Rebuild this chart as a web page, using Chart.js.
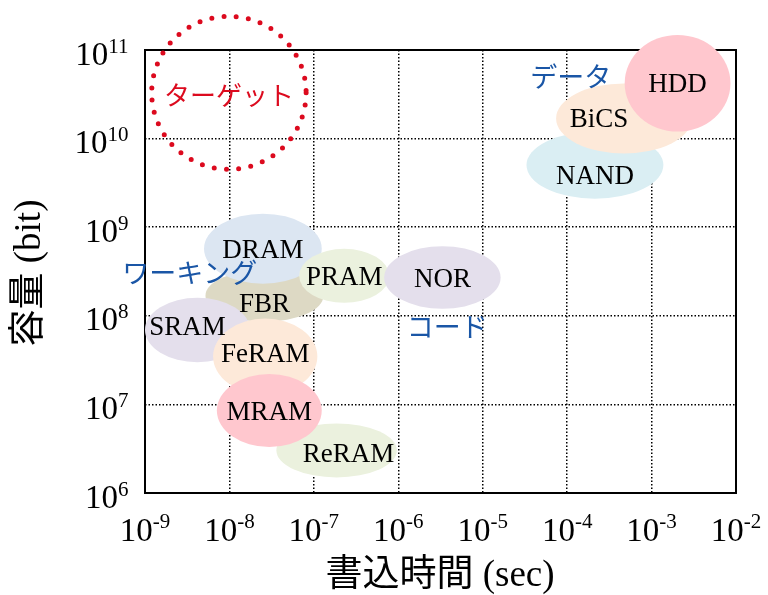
<!DOCTYPE html>
<html lang="ja">
<head>
<meta charset="utf-8">
<script src="https://cdn.jsdelivr.net/npm/chart.js@4/dist/chart.umd.min.js"></script>
<style>
  html, body { margin: 0; padding: 0; background: #fff; }
  #wrap { width: 768px; height: 595px; }
</style>
</head>
<body>
<div id="wrap"><canvas id="c" width="768" height="595"></canvas></div>
<script>
// Memory technologies: write-time range (sec) and capacity range (bit).
// Listed bottom-to-top in drawing order.
const techNames = ['FBR', 'DRAM', 'PRAM', 'NOR', 'SRAM', 'FeRAM', 'ReRAM', 'MRAM', 'NAND', 'BiCS', 'HDD'];
const timeMin   = [5.2e-9, 5.0e-9, 6.7e-8, 6.8e-7, 1.0e-9, 6.4e-9, 3.6e-8, 7.1e-9, 3.3e-5, 7.4e-5, 4.8e-4];
const timeMax   = [1.3e-7, 1.24e-7, 7.8e-7, 1.63e-5, 1.75e-8, 1.1e-7, 9.6e-7, 1.24e-7, 1.38e-3, 3.0e-3, 8.6e-3];
const capMin    = [8.6e7, 2.3e8, 1.4e8, 1.2e8, 3.0e7, 1.3e7, 1.5e6, 3.3e6, 2.1e9, 6.8e9, 1.2e10];
const capMax    = [3.3e8, 1.42e9, 5.7e8, 6.1e8, 1.6e8, 9.3e7, 6.1e6, 2.2e7, 1.2e10, 4.2e10, 1.48e11];

// Target region
const targetLabel = 'ターゲット';
const targetTime = [1.2e-9, 8.1e-8];
const targetCap  = [4.5e9, 2.4e11];

// Usage-group captions, placed in data coordinates
const groupNames = ['データ', 'ワーキング', 'コード'];
const groupTime  = [1.1e-4, 3.4e-9, 3.8e-6];
const groupCap   = [5.0e10, 3.1e8, 7.6e7];

// Axis decades
const xExponents = [-9, -8, -7, -6, -5, -4, -3, -2];
const yExponents = [6, 7, 8, 9, 10, 11];

// ---- styles ----
const techColors = {
  FBR: '#ddd9c4', DRAM: '#dce6f2', PRAM: '#ebf1de', NOR: '#e4dfec', SRAM: '#e4dfec',
  FeRAM: '#fde9d9', ReRAM: '#ebf1de', MRAM: '#ffc7ce', NAND: '#daeef3', BiCS: '#fde9d9', HDD: '#ffc7ce'
};
const labelShift = { FBR: [0, 7], SRAM: [-10, -4], FeRAM: [0, -3], ReRAM: [12, 3], NAND: [0, 10], BiCS: [-25, 0] };
const serif = '"Liberation Serif", "Times New Roman", serif';
const jpFont = '"Noto Sans CJK JP", "Noto Sans", sans-serif';
const mixFont = '"Liberation Serif", "Noto Sans CJK JP", serif';
const red = '#dc0a1e';
const blue = '#1a56a6';

const powersOfTen = exps => exps.map(e => Math.pow(10, e));

function drawPower(ctx, exp, xPos, baseY, align, raise) {
  const base = '10', sup = String(exp);
  ctx.font = '33px ' + serif;
  const wb = ctx.measureText(base).width;
  ctx.font = '21px ' + serif;
  const ws = ctx.measureText(sup).width;
  const left = align === 'center' ? xPos - (wb + ws) / 2 : xPos - (wb + ws);
  ctx.textAlign = 'left';
  ctx.textBaseline = 'alphabetic';
  ctx.font = '33px ' + serif;
  ctx.fillText(base, left, baseY);
  ctx.font = '21px ' + serif;
  ctx.fillText(sup, left + wb, baseY - raise);
}

const framePlugin = {
  id: 'frame',
  beforeDatasetsDraw(chart) {
    const { ctx, chartArea: a } = chart;
    ctx.save();
    ctx.strokeStyle = '#000';
    ctx.lineWidth = 2;
    ctx.strokeRect(a.left, a.top, a.right - a.left, a.bottom - a.top);
    ctx.restore();
  }
};

const ellipsePlugin = {
  id: 'ellipses',
  afterDatasetsDraw(chart) {
    const { ctx, scales: { x, y } } = chart;
    ctx.save();
    // filled technology ellipses
    techNames.forEach((name, i) => {
      const x0 = x.getPixelForValue(timeMin[i]), x1 = x.getPixelForValue(timeMax[i]);
      const y0 = y.getPixelForValue(capMax[i]), y1 = y.getPixelForValue(capMin[i]);
      ctx.beginPath();
      ctx.ellipse((x0 + x1) / 2, (y0 + y1) / 2, (x1 - x0) / 2, (y1 - y0) / 2, 0, 0, Math.PI * 2);
      ctx.fillStyle = techColors[name];
      ctx.fill();
    });
    // technology names
    ctx.fillStyle = '#000';
    ctx.font = '27px ' + serif;
    ctx.textAlign = 'center';
    ctx.textBaseline = 'alphabetic';
    techNames.forEach((name, i) => {
      const cx = (x.getPixelForValue(timeMin[i]) + x.getPixelForValue(timeMax[i])) / 2;
      const cy = (y.getPixelForValue(capMin[i]) + y.getPixelForValue(capMax[i])) / 2;
      const s = labelShift[name] || [0, 0];
      ctx.fillText(name, cx + s[0], cy + s[1] + 9);
    });
    // dotted target circle
    const tx0 = x.getPixelForValue(targetTime[0]), tx1 = x.getPixelForValue(targetTime[1]);
    const ty0 = y.getPixelForValue(targetCap[1]), ty1 = y.getPixelForValue(targetCap[0]);
    const tcx = (tx0 + tx1) / 2, tcy = (ty0 + ty1) / 2;
    ctx.beginPath();
    ctx.ellipse(tcx, tcy, (tx1 - tx0) / 2, (ty1 - ty0) / 2, 0, 0, Math.PI * 2);
    ctx.strokeStyle = red;
    ctx.lineWidth = 5;
    ctx.lineCap = 'round';
    ctx.setLineDash([0, 12.3]);
    ctx.stroke();
    ctx.setLineDash([]);
    ctx.fillStyle = red;
    ctx.font = '26px ' + jpFont;
    ctx.textBaseline = 'middle';
    ctx.fillText(targetLabel, tcx, tcy + 2);
    // group captions
    ctx.fillStyle = blue;
    ctx.font = '27px ' + jpFont;
    groupNames.forEach((g, i) => {
      ctx.fillText(g, x.getPixelForValue(groupTime[i]), y.getPixelForValue(groupCap[i]));
    });
    ctx.restore();
  },
  afterDraw(chart) {
    const { ctx, scales: { x, y } } = chart;
    ctx.save();
    ctx.fillStyle = '#000';
    xExponents.forEach(e => drawPower(ctx, e, x.getPixelForValue(Math.pow(10, e)), 540.5, 'center', 12.5));
    yExponents.forEach(e => drawPower(ctx, e, 128.5, y.getPixelForValue(Math.pow(10, e)) + 14.5, 'right', 12));
    // axis titles
    ctx.font = '37px ' + mixFont;
    ctx.textAlign = 'center';
    ctx.textBaseline = 'middle';
    ctx.fillText('書込時間 (sec)', 440, 576);
    ctx.translate(30, 273);
    ctx.rotate(-Math.PI / 2);
    ctx.fillText('容量 (bit)', 0, 0);
    ctx.restore();
  }
};

const gridOpts = { color: '#000', lineWidth: 1.5, drawTicks: false };
const borderOpts = { display: false, dash: [1.5, 2] };

new Chart(document.getElementById('c'), {
  type: 'scatter',
  data: {
    datasets: [{
      label: 'memory',
      data: techNames.map((n, i) => ({ x: Math.sqrt(timeMin[i] * timeMax[i]), y: Math.sqrt(capMin[i] * capMax[i]) })),
      pointRadius: 0,
      pointHoverRadius: 0
    }]
  },
  options: {
    responsive: false,
    animation: false,
    devicePixelRatio: 1,
    layout: { padding: { left: 145, top: 50, right: 32, bottom: 102 } },
    plugins: { legend: { display: false }, tooltip: { enabled: false } },
    scales: {
      x: {
        type: 'logarithmic',
        min: 1e-9, max: 1e-2,
        afterBuildTicks: s => { s.ticks = powersOfTen(xExponents).map(v => ({ value: v })); },
        ticks: { display: false },
        grid: gridOpts,
        border: borderOpts
      },
      y: {
        type: 'logarithmic',
        min: 1e6, max: 1e11,
        afterBuildTicks: s => { s.ticks = powersOfTen(yExponents).map(v => ({ value: v })); },
        ticks: { display: false },
        grid: gridOpts,
        border: borderOpts
      }
    }
  },
  plugins: [framePlugin, ellipsePlugin]
});
</script>
</body>
</html>
